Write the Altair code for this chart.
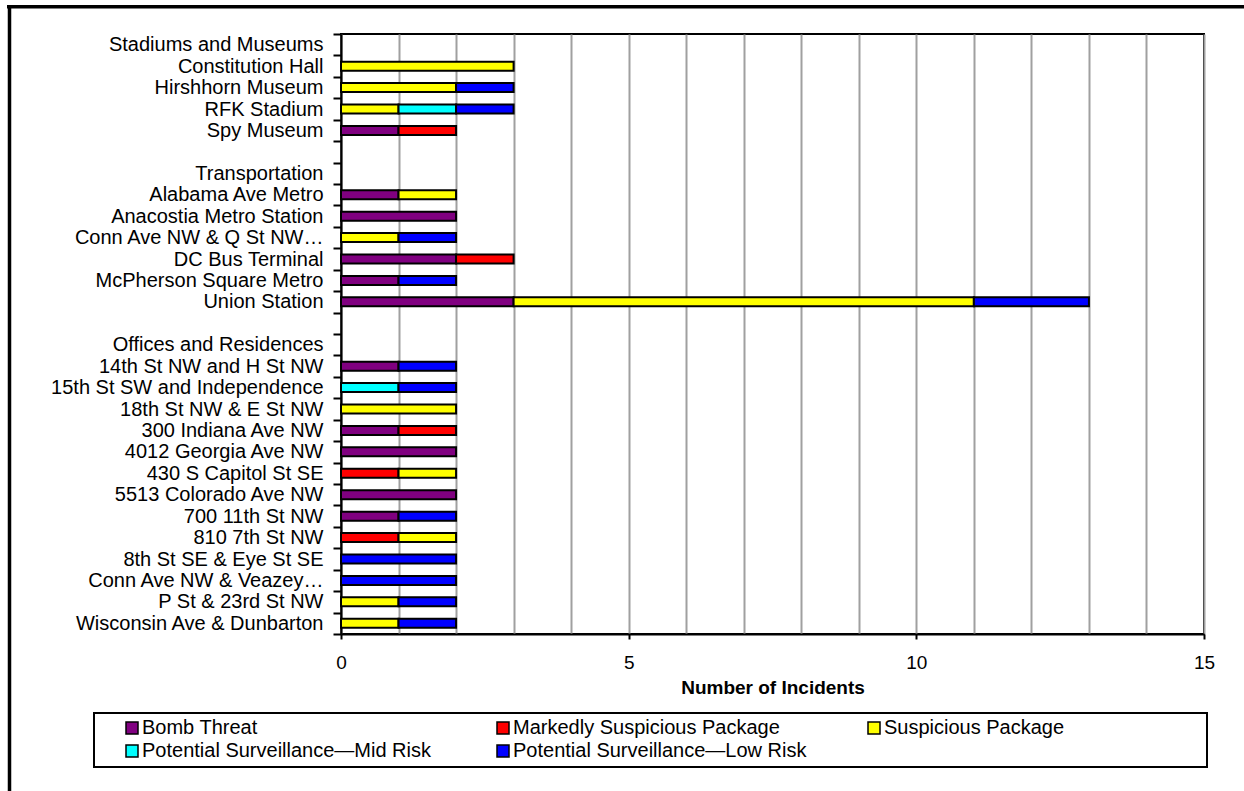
import altair as alt
import pandas as pd

# Row order of the category axis (group headers and spacer rows included)
rows = [
    "Stadiums and Museums",
    "Constitution Hall",
    "Hirshhorn Museum",
    "RFK Stadium",
    "Spy Museum",
    " ",
    "Transportation",
    "Alabama Ave Metro",
    "Anacostia Metro Station",
    "Conn Ave NW & Q St NW…",
    "DC Bus Terminal",
    "McPherson Square Metro",
    "Union Station",
    "  ",
    "Offices and Residences",
    "14th St NW and H St NW",
    "15th St SW and Independence",
    "18th St NW & E St NW",
    "300 Indiana Ave NW",
    "4012 Georgia Ave NW",
    "430 S Capitol St SE",
    "5513 Colorado Ave NW",
    "700 11th St NW",
    "810 7th St NW",
    "8th St SE & Eye St SE",
    "Conn Ave NW & Veazey…",
    "P St & 23rd St NW",
    "Wisconsin Ave & Dunbarton",
]

sites = [
    "Constitution Hall", "Hirshhorn Museum", "RFK Stadium", "Spy Museum",
    "Alabama Ave Metro", "Anacostia Metro Station", "Conn Ave NW & Q St NW…",
    "DC Bus Terminal", "McPherson Square Metro", "Union Station",
    "14th St NW and H St NW", "15th St SW and Independence", "18th St NW & E St NW",
    "300 Indiana Ave NW", "4012 Georgia Ave NW", "430 S Capitol St SE",
    "5513 Colorado Ave NW", "700 11th St NW", "810 7th St NW",
    "8th St SE & Eye St SE", "Conn Ave NW & Veazey…", "P St & 23rd St NW",
    "Wisconsin Ave & Dunbarton",
]

types = [
    "Bomb Threat",
    "Markedly Suspicious Package",
    "Suspicious Package",
    "Potential Surveillance—Mid Risk",
    "Potential Surveillance—Low Risk",
]
colors = ["#800080", "#FF0000", "#FFFF00", "#00FFFF", "#0000FF"]

# Incident counts per site, one list per incident type
bomb_threat = [0, 0, 0, 1, 1, 2, 0, 2, 1, 3, 1, 0, 0, 1, 2, 0, 2, 1, 0, 0, 0, 0, 0]
marked_pkg = [0, 0, 0, 1, 0, 0, 0, 1, 0, 0, 0, 0, 0, 1, 0, 1, 0, 0, 1, 0, 0, 0, 0]
suspicious_pkg = [3, 2, 1, 0, 1, 0, 1, 0, 0, 8, 0, 0, 2, 0, 0, 1, 0, 0, 1, 0, 0, 1, 1]
surv_mid = [0, 0, 1, 0, 0, 0, 0, 0, 0, 0, 0, 1, 0, 0, 0, 0, 0, 0, 0, 0, 0, 0, 0]
surv_low = [0, 1, 1, 0, 0, 0, 1, 0, 1, 2, 1, 1, 0, 0, 0, 0, 0, 1, 0, 2, 2, 1, 1]

series = [bomb_threat, marked_pkg, suspicious_pkg, surv_mid, surv_low]
records = []
for k, (t, vals) in enumerate(zip(types, series)):
    for s, v in zip(sites, vals):
        if v:
            records.append({"site": s, "type": t, "count": v, "k": k})
df = pd.DataFrame(records)

FONT = "Liberation Sans"
W, H = 863, 600          # plot area
LEFT, TOP = 341, 34      # plot origin on the page
PAGE_W, PAGE_H = 1244, 791

bars = alt.Chart(df).mark_bar(size=9, stroke="black", strokeWidth=2).encode(
    x=alt.X(
        "count:Q",
        stack="zero",
        scale=alt.Scale(domain=[0, 15], nice=False),
        axis=alt.Axis(
            values=list(range(16)),
            grid=True,
            gridColor="#a0a0a0",
            gridWidth=2,
            labelExpr="datum.value % 5 === 0 ? datum.label : ''",
            tickOpacity={"condition": {"test": "datum.value % 5 === 0", "value": 1}, "value": 0},
            tickSize=5,
            tickWidth=2,
            tickColor="black",
            domainColor="black",
            domainWidth=2,
            labelFont=FONT,
            labelFontSize=19,
            labelColor="black",
            labelPadding=14,
            labelFlush=False,
            labelOverlap=False,
            title="Number of Incidents",
            titleFont=FONT,
            titleFontSize=19,
            titleFontWeight="bold",
            titleColor="black",
            titlePadding=6,
        ),
    ),
    y=alt.Y(
        "site:N",
        scale=alt.Scale(domain=rows, paddingInner=0, paddingOuter=0),
        axis=alt.Axis(
            title=None,
            tickBand="extent",
            tickSize=8,
            tickWidth=2,
            tickColor="black",
            domainColor="black",
            domainWidth=2,
            labelFont=FONT,
            labelFontSize=20,
            labelColor="black",
            labelPadding=10,
            labelLimit=400,
            grid=False,
        ),
    ),
    color=alt.Color(
        "type:N",
        scale=alt.Scale(domain=types, range=colors),
        legend=alt.Legend(
            title=None,
            orient="none",
            legendX=-224,
            legendY=679,
            direction="horizontal",
            columns=3,
            gridAlign="all",
            columnPadding=57,
            rowPadding=3,
            padding=5,
            symbolType="square",
            symbolSize=144,
            symbolStrokeColor="black",
            symbolStrokeWidth=1.5,
            symbolOpacity=1,
            labelFont=FONT,
            labelFontSize=20,
            labelColor="black",
            labelOffset=0,
            labelLimit=400,
        ),
    ),
    order=alt.Order("k:Q", sort="ascending"),
)

one = alt.Data(values=[{"a": 1}])

# Border around the legend entries
legend_box = alt.Chart(one).mark_rect(fill="transparent", stroke="black", strokeWidth=2).encode(
    x=alt.value(94 - LEFT), x2=alt.value(1207 - LEFT),
    y=alt.value(713 - TOP), y2=alt.value(767 - TOP),
)

# Page frame along the top and left edges
frame_top = alt.Chart(one).mark_rule(color="black", strokeWidth=3.5).encode(
    x=alt.value(7 - LEFT), x2=alt.value(PAGE_W - LEFT), y=alt.value(6.8 - TOP),
)
frame_left = alt.Chart(one).mark_rule(color="black", strokeWidth=3.5).encode(
    x=alt.value(9.5 - LEFT), y=alt.value(5 - TOP), y2=alt.value(PAGE_H - TOP),
)

chart = (
    alt.layer(bars, legend_box, frame_top, frame_left)
    .properties(
        width=W,
        height=H,
        padding={"left": LEFT, "top": TOP, "right": PAGE_W - LEFT - W, "bottom": PAGE_H - TOP - H},
        autosize=alt.AutoSizeParams(type="none"),
        background="white",
    )
    .configure_view(stroke="black", strokeWidth=2)
)

chart.save("out.html", embed_options={"renderer": "svg", "actions": False})
